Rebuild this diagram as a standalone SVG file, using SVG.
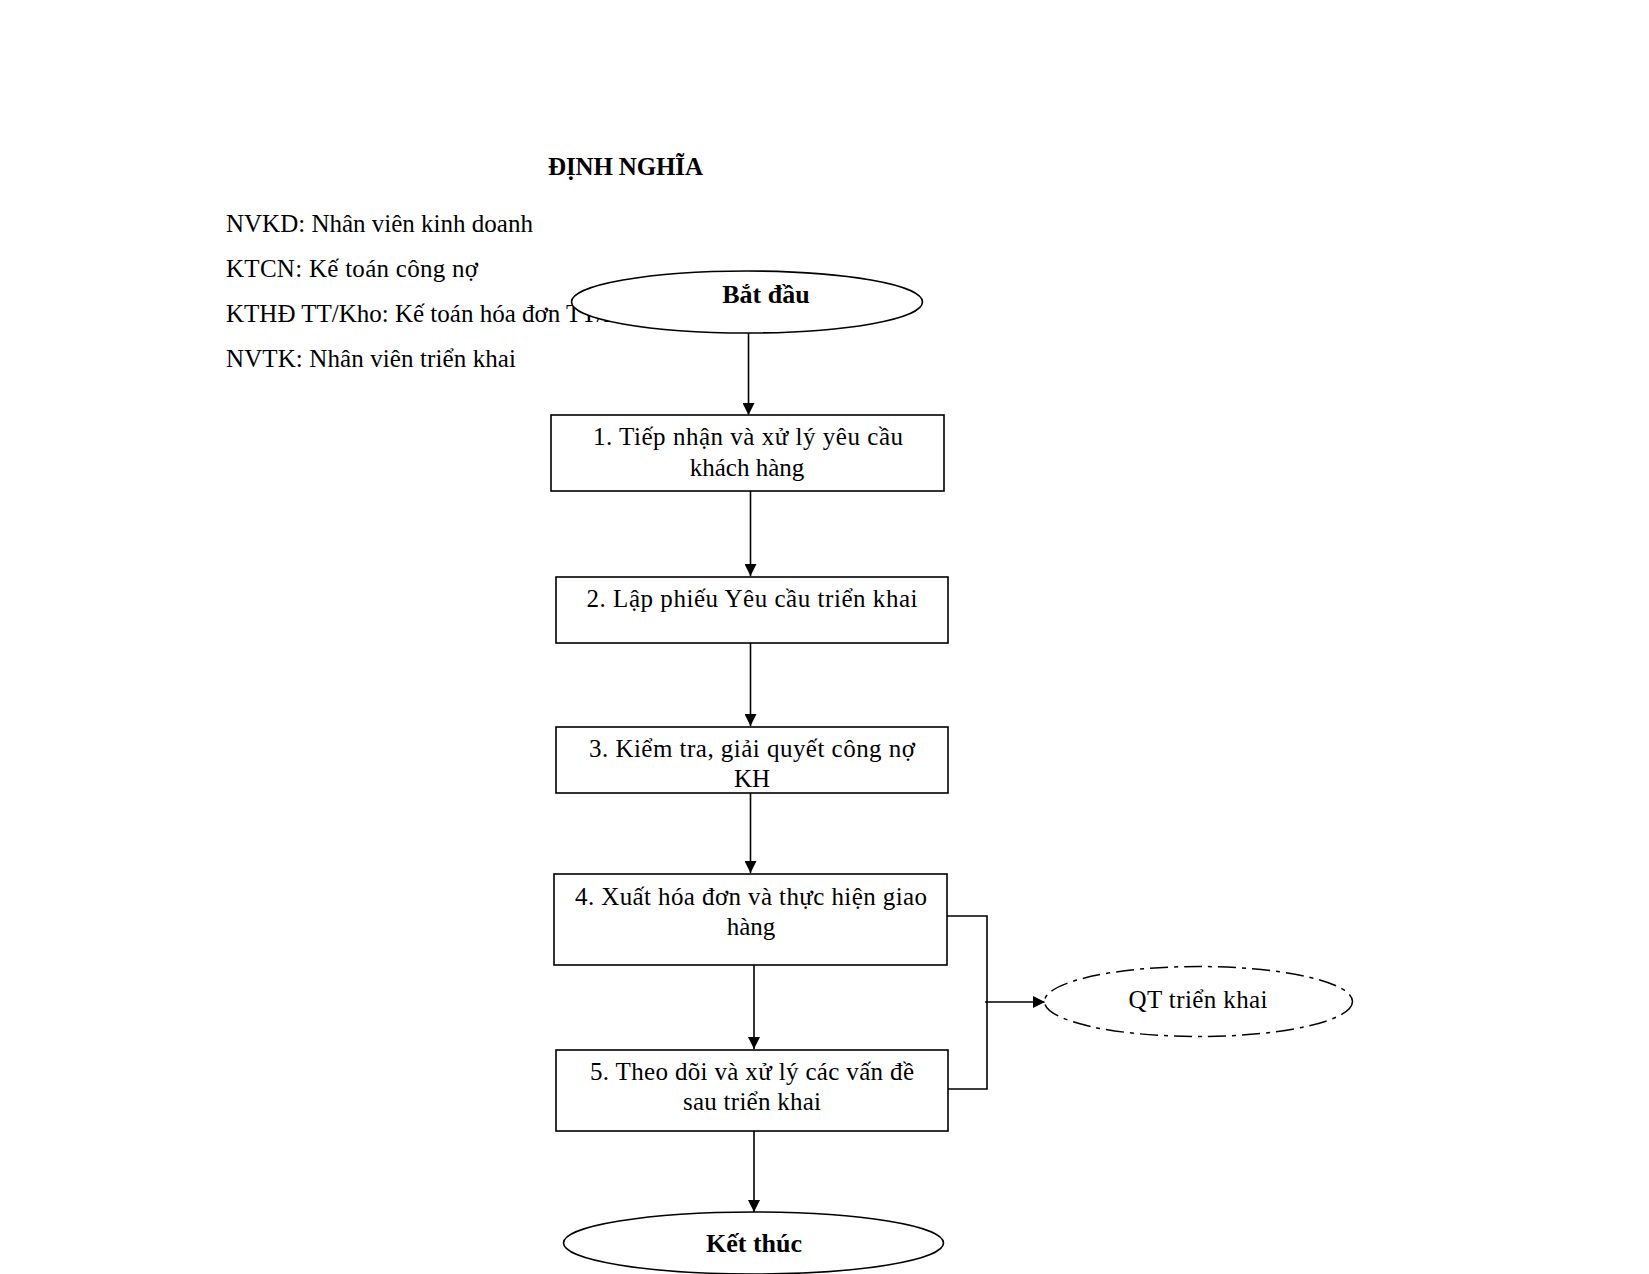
<svg xmlns="http://www.w3.org/2000/svg" width="1649" height="1274" viewBox="0 0 1649 1274">
<style>
  .t { font-family: "Liberation Serif", "Times New Roman", serif; font-size: 25px; fill: #000; }
  .c { text-anchor: middle; }
  .b { font-weight: bold; font-size: 26px; }
  .box { fill: #fff; stroke: #000; stroke-width: 1.6; }
  .term { fill: #fff; stroke: #000; stroke-width: 1.6; }
  .ref { fill: #fff; stroke: #000; stroke-width: 1.5; stroke-dasharray: 18 6 4 6; }
  .ln { fill: none; stroke: #000; stroke-width: 1.6; }
</style>
<defs>
  <marker id="arr" markerUnits="userSpaceOnUse" markerWidth="12" markerHeight="12" refX="12" refY="6" orient="auto">
    <path d="M0,0 L12,6 L0,12 Z" fill="#000"/>
  </marker>
</defs>
<rect width="1649" height="1274" fill="#fff"/>

<g id="definitions">
  <text class="t" x="548" y="175" style="font-weight:bold" textLength="155">ĐỊNH NGHĨA</text>
  <text class="t" x="226" y="232">NVKD: Nhân viên kinh doanh</text>
  <text class="t" x="226" y="277" textLength="252">KTCN: Kế toán công nợ</text>
  <text class="t" x="226" y="322">KTHĐ TT/Kho: Kế toán hóa đơn TT/Kho</text>
  <text class="t" x="226" y="367" textLength="290">NVTK: Nhân viên triển khai</text>
</g>

<g id="connectors">
  <line class="ln" x1="748.5" y1="333" x2="748.5" y2="415" marker-end="url(#arr)"/>
  <line class="ln" x1="750.5" y1="491" x2="750.5" y2="576" marker-end="url(#arr)"/>
  <line class="ln" x1="750.5" y1="643" x2="750.5" y2="726" marker-end="url(#arr)"/>
  <line class="ln" x1="750.5" y1="793" x2="750.5" y2="873" marker-end="url(#arr)"/>
  <line class="ln" x1="754" y1="965" x2="754" y2="1049" marker-end="url(#arr)"/>
  <line class="ln" x1="754" y1="1131" x2="754" y2="1212" marker-end="url(#arr)"/>
  <polyline class="ln" points="947,916 987,916 987,1089 948,1089"/>
  <line class="ln" x1="985" y1="1002" x2="1045" y2="1002" marker-end="url(#arr)"/>
</g>

<g id="start">
  <ellipse class="term" cx="747" cy="302" rx="175.5" ry="31"/>
  <text class="t c b" x="766" y="303">Bắt đầu</text>
</g>

<g id="step1">
  <rect class="box" x="551" y="415" width="393" height="76"/>
  <text class="t c" x="748" y="445" textLength="310">1. Tiếp nhận và xử lý yêu cầu</text>
  <text class="t c" x="747" y="476">khách hàng</text>
</g>

<g id="step2">
  <rect class="box" x="556" y="577" width="392" height="66"/>
  <text class="t c" x="752" y="607" textLength="331">2. Lập phiếu Yêu cầu triển khai</text>
</g>

<g id="step3">
  <rect class="box" x="556" y="727" width="392" height="66"/>
  <text class="t c" x="752" y="757" textLength="326">3. Kiểm tra, giải quyết công nợ</text>
  <text class="t c" x="752" y="787">KH</text>
</g>

<g id="step4">
  <rect class="box" x="554" y="874" width="393" height="91"/>
  <text class="t c" x="751" y="905" textLength="352">4. Xuất hóa đơn và thực hiện giao</text>
  <text class="t c" x="751" y="935">hàng</text>
</g>

<g id="step5">
  <rect class="box" x="556" y="1050" width="392" height="81"/>
  <text class="t c" x="752" y="1080" textLength="324">5. Theo dõi và xử lý các vấn đề</text>
  <text class="t c" x="752" y="1110" textLength="138">sau triển khai</text>
</g>

<g id="qt-trien-khai">
  <ellipse class="ref" cx="1198.5" cy="1001.5" rx="154" ry="35"/>
  <text class="t c" x="1198" y="1008" textLength="139">QT triển khai</text>
</g>

<g id="end">
  <ellipse class="term" cx="753.5" cy="1243" rx="190" ry="31"/>
  <text class="t c b" x="754" y="1252">Kết thúc</text>
</g>
</svg>
